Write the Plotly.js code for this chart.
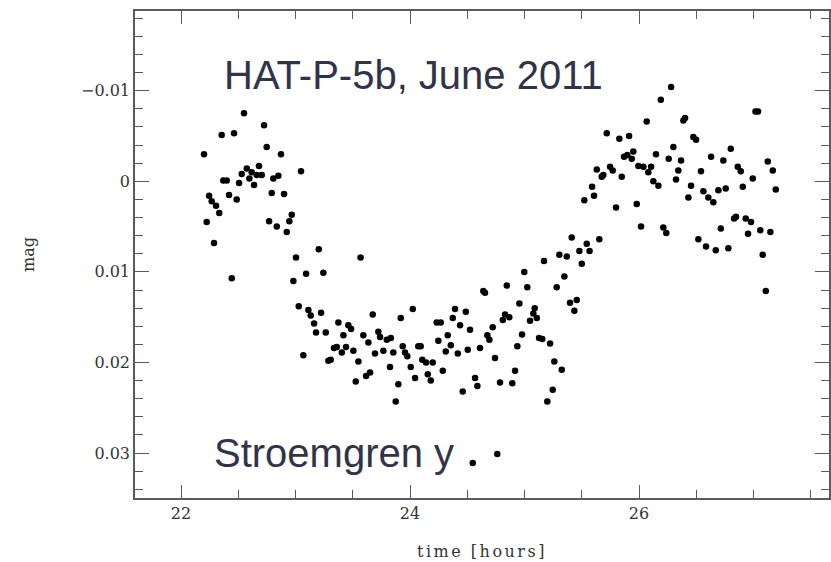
<!DOCTYPE html>
<html>
<head>
<meta charset="utf-8">
<script src="https://cdn.plot.ly/plotly-3.0.1.min.js"></script>
<style>
  html, body { margin: 0; padding: 0; background: #fff; }
  #chart { width: 831px; height: 562px; }
  .xtitle { letter-spacing: 2.5px; }
</style>
</head>
<body>
<div id="chart"></div>
<script>
// time [hours]
const timeHours = [
  22.201, 22.224, 22.245, 22.268, 22.288, 22.306, 22.334, 22.355, 22.369, 22.399,
  22.419, 22.443, 22.463, 22.486, 22.507, 22.530, 22.550, 22.574, 22.597, 22.617,
  22.638, 22.661, 22.681, 22.705, 22.725, 22.748, 22.769, 22.792, 22.806, 22.836,
  22.850, 22.873, 22.900, 22.923, 22.946, 22.967, 22.981, 23.004, 23.028, 23.048,
  23.068, 23.092, 23.112, 23.133, 23.162, 23.179, 23.203, 23.223, 23.243, 23.264,
  23.287, 23.307, 23.336, 23.360, 23.374, 23.404, 23.418, 23.441, 23.461, 23.485,
  23.505, 23.526, 23.549, 23.568, 23.592, 23.616, 23.636, 23.651, 23.674, 23.694,
  23.723, 23.738, 23.767, 23.797, 23.825, 23.832, 23.854, 23.875, 23.898, 23.919,
  23.936, 23.956, 23.976, 24.006, 24.024, 24.044, 24.072, 24.093, 24.107, 24.140,
  24.155, 24.181, 24.198, 24.233, 24.247, 24.268, 24.286, 24.312, 24.329, 24.356,
  24.373, 24.393, 24.417, 24.437, 24.460, 24.487, 24.504, 24.524, 24.548, 24.568,
  24.588, 24.611, 24.640, 24.655, 24.675, 24.693, 24.722, 24.742, 24.762, 24.786,
  24.810, 24.830, 24.845, 24.867, 24.893, 24.917, 24.937, 24.955, 24.978, 24.998,
  25.024, 25.048, 25.077, 25.089, 25.107, 25.127, 25.155, 25.170, 25.199, 25.223,
  25.246, 25.260, 25.281, 25.304, 25.325, 25.348, 25.369, 25.397, 25.412, 25.435,
  25.456, 25.479, 25.500, 25.522, 25.543, 25.568, 25.590, 25.607, 25.631, 25.653,
  25.674, 25.688, 25.718, 25.747, 25.770, 25.799, 25.828, 25.849, 25.869, 25.898,
  25.913, 25.936, 25.950, 25.980, 25.994, 26.017, 26.038, 26.067, 26.081, 26.105,
  26.125, 26.148, 26.169, 26.190, 26.212, 26.238, 26.259, 26.280, 26.300, 26.323,
  26.343, 26.367, 26.387, 26.402, 26.431, 26.454, 26.474, 26.498, 26.518, 26.541,
  26.562, 26.585, 26.605, 26.629, 26.649, 26.670, 26.693, 26.714, 26.736, 26.757,
  26.780, 26.801, 26.830, 26.847, 26.862, 26.888, 26.906, 26.932, 26.952, 26.978,
  26.993, 27.017, 27.039, 27.059, 27.080, 27.107, 27.124, 27.147, 27.168, 27.194
];

// mag
const magValues = [
  -0.0030, 0.0045, 0.0016, 0.0022, 0.0068, 0.0027, 0.0035, -0.0051, -0.0001, -0.0001,
  0.0015, 0.0107, -0.0053, 0.0020, 0.0002, -0.0008, -0.0075, -0.0014, -0.0003, -0.0010,
  0.0004, -0.0007, -0.0017, -0.0007, -0.0062, -0.0038, 0.0044, 0.0013, -0.0003, 0.0050,
  -0.0006, -0.0030, 0.0014, 0.0056, 0.0044, 0.0037, 0.0110, 0.0084, 0.0138, -0.0011,
  0.0192, 0.0102, 0.0142, 0.0148, 0.0157, 0.0167, 0.0075, 0.0145, 0.0101, 0.0167,
  0.0198, 0.0197, 0.0184, 0.0183, 0.0156, 0.0189, 0.0170, 0.0183, 0.0159, 0.0163,
  0.0187, 0.0221, 0.0199, 0.0084, 0.0170, 0.0215, 0.0178, 0.0211, 0.0147, 0.0190,
  0.0166, 0.0172, 0.0187, 0.0175, 0.0205, 0.0173, 0.0189, 0.0243, 0.0224, 0.0151,
  0.0182, 0.0189, 0.0193, 0.0205, 0.0141, 0.0217, 0.0182, 0.0182, 0.0197, 0.0200,
  0.0213, 0.0220, 0.0200, 0.0156, 0.0176, 0.0156, 0.0209, 0.0188, 0.0170, 0.0181,
  0.0151, 0.0141, 0.0190, 0.0159, 0.0232, 0.0144, 0.0186, 0.0164, 0.0311, 0.0217,
  0.0226, 0.0184, 0.0121, 0.0123, 0.0170, 0.0175, 0.0161, 0.0195, 0.0301, 0.0222,
  0.0153, 0.0147, 0.0115, 0.0150, 0.0223, 0.0209, 0.0182, 0.0135, 0.0169, 0.0100,
  0.0117, 0.0154, 0.0146, 0.0140, 0.0151, 0.0173, 0.0174, 0.0088, 0.0243, 0.0179,
  0.0230, 0.0199, 0.0117, 0.0081, 0.0208, 0.0105, 0.0083, 0.0134, 0.0062, 0.0143,
  0.0131, 0.0077, 0.0091, 0.0021, 0.0069, 0.0077, 0.0006, 0.0016, -0.0013, 0.0064,
  -0.0005, -0.0007, -0.0053, -0.0016, -0.0012, 0.0029, -0.0047, -0.0005, -0.0027, -0.0029,
  -0.0050, -0.0025, -0.0033, 0.0025, -0.0017, 0.0050, -0.0016, -0.0066, -0.0010, -0.0016,
  -0.0000, -0.0030, 0.0005, -0.0090, 0.0051, 0.0057, -0.0025, -0.0104, -0.0038, -0.0002,
  -0.0012, -0.0023, -0.0067, -0.0070, 0.0018, 0.0005, -0.0049, -0.0046, 0.0064, -0.0011,
  0.0011, 0.0072, 0.0018, -0.0027, 0.0023, 0.0076, 0.0010, 0.0052, -0.0023, 0.0008,
  0.0074, -0.0036, 0.0041, 0.0039, -0.0016, -0.0011, 0.0006, 0.0041, 0.0058, 0.0045,
  -0.0003, -0.0077, -0.0077, 0.0054, 0.0081, 0.0121, -0.0022, 0.0056, -0.0012, 0.0009
];

const xTickVals = [22, 24, 26];
const yTickVals = [-0.01, 0, 0.01, 0.02, 0.03];
const yTickText = ['\u22120.01', '0', '0.01', '0.02', '0.03'];
const titleText = 'HAT-P-5b, June 2011';
const filterText = 'Stroemgren y';
const xLabel = 'time [hours]';
const yLabel = 'mag';

const axisFont = { family: 'DejaVu Serif, serif', size: 16, color: '#333' };
const frame = '#5a5a5a';

const layout = {
  width: 831, height: 562,
  margin: { l: 135, r: 2, t: 11, b: 64 },
  paper_bgcolor: '#fff', plot_bgcolor: '#fff',
  xaxis: {
    range: [21.598, 27.659], tickmode: 'array', tickvals: xTickVals,
    ticks: 'inside', ticklen: 13, tickwidth: 1.3, tickcolor: frame,
    showline: true, linecolor: frame, linewidth: 1.6, mirror: 'allticks',
    showgrid: false, zeroline: false, tickfont: axisFont,
    minor: { dtick: 0.5, tick0: 0, ticks: 'inside', ticklen: 8, tickwidth: 1.2, tickcolor: frame, showgrid: false },
    title: { text: xLabel, font: axisFont, standoff: 24 }
  },
  yaxis: {
    range: [0.03496, -0.0188], tickmode: 'array', tickvals: yTickVals, ticktext: yTickText,
    ticks: 'inside', ticklen: 14, tickwidth: 1.3, tickcolor: frame,
    showline: true, linecolor: frame, linewidth: 1.6, mirror: 'allticks',
    showgrid: false, zeroline: false, tickfont: axisFont,
    minor: { dtick: 0.002, tick0: 0, ticks: 'inside', ticklen: 8, tickwidth: 1.2, tickcolor: frame, showgrid: false },
    title: { text: yLabel, font: axisFont, standoff: 42 }
  }
};

const textAnnotations = [
  {
    text: titleText, xref: 'paper', yref: 'paper', x: 0.1254, y: 0.8686,
    xanchor: 'left', yanchor: 'middle', showarrow: false,
    font: { family: 'Liberation Sans, Arial, sans-serif', size: 40, color: '#30344a' }
  },
  {
    text: filterText, xref: 'paper', yref: 'paper', x: 0.111, y: 0.0924,
    xanchor: 'left', yanchor: 'middle', showarrow: false,
    font: { family: 'Liberation Sans, Arial, sans-serif', size: 40, color: '#30344a' }
  }
];

const trace = {
  x: timeHours, y: magValues, type: 'scatter', mode: 'markers',
  marker: { color: '#000', size: 6.5, line: { width: 0 } },
  hoverinfo: 'skip', showlegend: false
};

Plotly.newPlot('chart', [trace], layout, { displayModeBar: false }).then(function () {
  return Plotly.relayout('chart', { annotations: textAnnotations });
});
</script>
</body>
</html>
